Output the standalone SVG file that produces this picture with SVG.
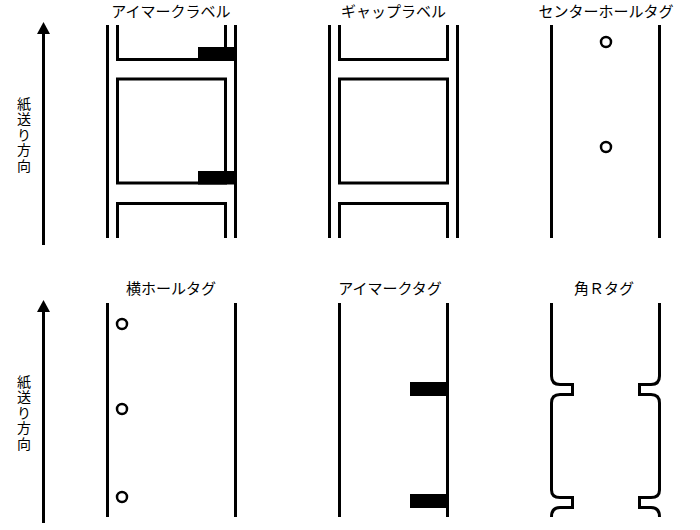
<svg xmlns="http://www.w3.org/2000/svg" width="700" height="530" viewBox="0 0 700 530">
<style>
.l{fill:none;stroke:#000;stroke-width:3}
.c{fill:#fff;stroke:#000;stroke-width:2.5}
.b{fill:#000;stroke:none}
.h{fill:#000;stroke:none}
text{font-family:"Noto Sans CJK JP","Liberation Sans",sans-serif;font-size:15px;fill:#000;text-anchor:middle}
text.v{font-size:14px}
</style>
<rect width="700" height="530" fill="#fff"/>
<g id="connectors">
<path class="l" d="M43.5 245V32"/><path class="h" d="M37 34 43.5 22 50 34Z"/>
<path class="l" d="M43.5 523V310"/><path class="h" d="M37 312 43.5 300 50 312Z"/>
</g>
<g id="feed-label-1"><text class="v" x="24 24 24 24 24" y="108.500 124 139.500 155 171">紙送り方向</text></g>
<g id="feed-label-2"><text class="v" x="24 24 24 24 24" y="386.500 402 417.500 433 449">紙送り方向</text></g>
<g id="eye-mark-label">
<text x="171" y="16.500">アイマークラベル</text>
<path class="l" d="M107.500 25V238M235.500 25V238"/>
<path class="l" d="M117.500 25V59.500H225.500V25"/>
<rect class="l" x="117.500" y="79" width="108" height="104"/>
<path class="l" d="M117.500 238V203.500H225.500V238"/>
<rect class="b" x="198" y="47" width="37" height="14"/>
<rect class="b" x="198" y="171" width="37" height="13.500"/>
</g>
<g id="gap-label">
<text x="393.500" y="16.500">ギャップラベル</text>
<path class="l" d="M329.500 25V238M457.500 25V238"/>
<path class="l" d="M339.500 25V59.500H447.500V25"/>
<rect class="l" x="339.500" y="79" width="108" height="104"/>
<path class="l" d="M339.500 238V203.500H447.500V238"/>
</g>
<g id="center-hole-tag">
<text x="606" y="16.500">センターホールタグ</text>
<path class="l" d="M551.500 25V238M659.500 25V238"/>
<circle class="c" cx="606" cy="42" r="5"/>
<circle class="c" cx="606" cy="147" r="5"/>
</g>
<g id="side-hole-tag">
<text x="171" y="294">横ホールタグ</text>
<path class="l" d="M107.500 303V517M235.500 303V517"/>
<circle class="c" cx="122" cy="324" r="5"/>
<circle class="c" cx="122" cy="409" r="5"/>
<circle class="c" cx="122" cy="497" r="5"/>
</g>
<g id="eye-mark-tag">
<text x="390" y="294">アイマークタグ</text>
<path class="l" d="M339.500 303V517M447.500 303V517"/>
<rect class="b" x="410" y="382" width="37" height="14"/>
<rect class="b" x="410" y="494" width="37" height="14"/>
</g>
<g id="round-corner-tag">
<text x="604" y="294">角Ｒタグ</text>
<path class="l" d="M551.500 303V376Q551.500 384.500 560 384.500H572.500V394.500H560Q551.500 394.500 551.500 403V490Q551.500 497.500 560 497.500H572.500V507.500H560Q551.500 507.500 551.500 517"/>
<path class="l" d="M659.500 303V376Q659.500 384.500 651 384.500H639.500V394.500H651Q659.500 394.500 659.500 403V490Q659.500 497.500 651 497.500H639.500V507.500H651Q659.500 507.500 659.500 517"/>
</g>
</svg>
